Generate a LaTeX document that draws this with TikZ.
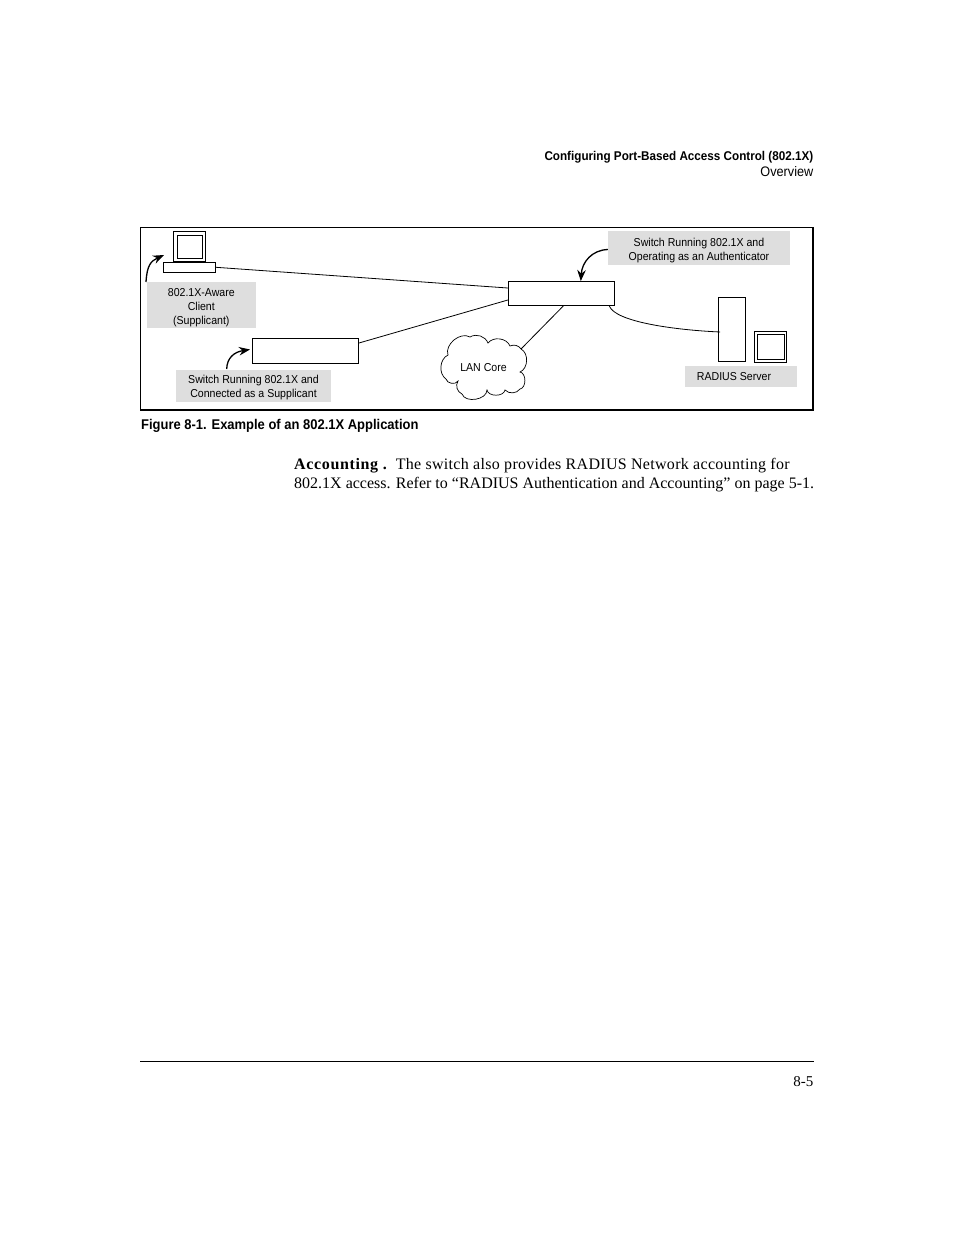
\documentclass[tikz,border=0pt]{standalone}
\usepackage{fontspec}
\setmainfont{Liberation Serif}
\newfontfamily\labelfont[FakeStretch=0.92]{Liberation Sans}
\usetikzlibrary{arrows.meta}
\tikzset{
  devbox/.style={draw, line width=0.9pt, inner sep=0pt},
  graybox/.style={fill=black!13, inner sep=0pt, align=center, font=\labelfont\fontsize{11.5}{14}\selectfont},
  callout/.style={line width=1.3pt, -{Stealth[length=11pt,width=8.5pt]}},
  wire/.style={line width=0.8pt},
  headtext/.style={inner sep=0pt, font=\labelfont\fontsize{12.7}{16}\selectfont},
  bodytext/.style={inner sep=0pt, anchor=base west, font=\fontsize{16}{19}\selectfont}
}
\begin{document}
\begin{tikzpicture}[x=1pt,y=-1pt]
  \useasboundingbox (0,0) rectangle (954,1235);

  % header and frame
  \node[headtext, anchor=base east] (headA) at (813.5,160) {\bfseries Configuring Port-Based Access Control (802.1X)};
  \node[headtext, anchor=base east, font=\labelfont\fontsize{13.8}{16}\selectfont] (headB) at (813.5,176) {Overview};
  \draw[line width=1.8pt] (140.5,227.5) rectangle (813,410);

  % gray labels
  \node[graybox, minimum width=109pt, minimum height=46pt] (clientlabel) at (201.3,305) {\rule{0pt}{14pt}802.1X-Aware\\Client\\(Supplicant)};
  \node[graybox, minimum width=155pt, minimum height=32pt] (supplabel) at (253.5,385.5) {\rule{0pt}{12pt}Switch Running 802.1X and\\Connected as a Supplicant};
  \node[graybox, minimum width=182pt, minimum height=34pt] (authlabel) at (699,248) {\rule{0pt}{13.5pt}Switch Running 802.1X and\\Operating as an Authenticator};
  \node[graybox, minimum width=112pt, minimum height=21pt] (radiuslabel) at (741,376.5) {RADIUS Server\hspace*{14pt}};

  % client
  \node[devbox, minimum width=32pt, minimum height=30pt] (clientscreen) at (189.5,246.7) {};
  \node[devbox, minimum width=25pt, minimum height=23pt] (clientinner) at (189.5,246.7) {};
  \node[devbox, minimum width=52pt, minimum height=10pt] (clientbase) at (189.5,267.3) {};

  % switches and server
  \node[devbox, minimum width=106pt, minimum height=25pt] (suppswitch) at (305.5,350.8) {};
  \node[devbox, minimum width=106pt, minimum height=24pt] (authswitch) at (561.3,293.5) {};
  \node[devbox, minimum width=27pt, minimum height=64pt] (radiusbox) at (732,329.5) {};
  \node[devbox, minimum width=32pt, minimum height=31pt] (radiusscreen) at (770.5,346.5) {};
  \node[devbox, minimum width=27pt, minimum height=25pt] (radiusinner) at (770.5,346.5) {};

  % cloud
  \coordinate (C1) at (448,355);
  \coordinate (C2) at (470,337);
  \coordinate (C3) at (488,343);
  \coordinate (C4) at (510,346);
  \coordinate (C5) at (521,349);
  \coordinate (C6) at (520,372);
  \coordinate (C7) at (520,389);
  \coordinate (C8) at (505,390);
  \coordinate (C9) at (487,390);
  \coordinate (C10) at (462,394);
  \coordinate (C11) at (458,381);
  \coordinate (C12) at (446,379);
  \draw[line width=0.7pt] (C1) to[bend left=70] (C2) to[bend left=50] (C3)
    to[bend left=60] (C4) to[bend left=40] (C5) to[bend left=65] (C6)
    to[bend left=80] (C7) to[bend left=50] (C8) to[bend left=80] (C9)
    to[bend left=80] (C10) to[bend left=50] (C11) to[bend left=70] (C12)
    to[bend left=60] (C1) -- cycle;
  \node[inner sep=0pt, font=\labelfont\fontsize{11.5}{14}\selectfont] (lancore) at (483.5,367.5) {LAN Core};

  % connectors
  \draw[wire] (clientbase.east) -- ([yshift=5.5pt]authswitch.west);
  \draw[wire] ([yshift=7.8pt]suppswitch.east) -- ([yshift=-6.5pt]authswitch.west);
  \draw[wire] (C5) -- ([xshift=2pt]authswitch.south);
  \draw[wire] ([xshift=48pt]authswitch.south) .. controls +(6,16) and +(-45,-2) .. ([yshift=-2.5pt,xshift=2pt]radiusbox.west);

  % callouts
  \coordinate (clientfoot) at (146,282);
  \coordinate (suppfoot) at (226.7,369);
  \draw[callout] (clientfoot) .. controls (147,265) and (151,261) .. (164,255);
  \draw[callout] (suppfoot) .. controls (227,358) and (234,352) .. (250,349.5);
  \draw[callout] ([yshift=-1.5pt]authlabel.west) .. controls (592,250) and (582,262) .. ([xshift=19.5pt]authswitch.north);

  % caption and text
  \node[headtext, anchor=base west, font=\labelfont\fontsize{14.1}{16}\selectfont] (caption) at (141,429.5) {\bfseries Figure 8-1. Example of an 802.1X Application};
  \node[bodytext] (bodyA) at (294,469) {{\bfseries\addfontfeature{LetterSpace=4}Accounting .}\hspace{9pt}{\addfontfeature{LetterSpace=1.9}The switch also provides RADIUS Network accounting for}};
  \node[bodytext] (bodyB) at (294,488) {802.1X access. Refer to “RADIUS Authentication and Accounting” on page 5-1.};

  % foot
  \coordinate (footL) at (140,1061.5);
  \coordinate (footR) at (813.5,1061.5);
  \draw[line width=0.8pt] (footL) -- (footR);
  \node[inner sep=0pt, anchor=base east, font=\fontsize{15}{18}\selectfont] (pagenum) at (813.5,1086) {8-5};
\end{tikzpicture}
\end{document}
